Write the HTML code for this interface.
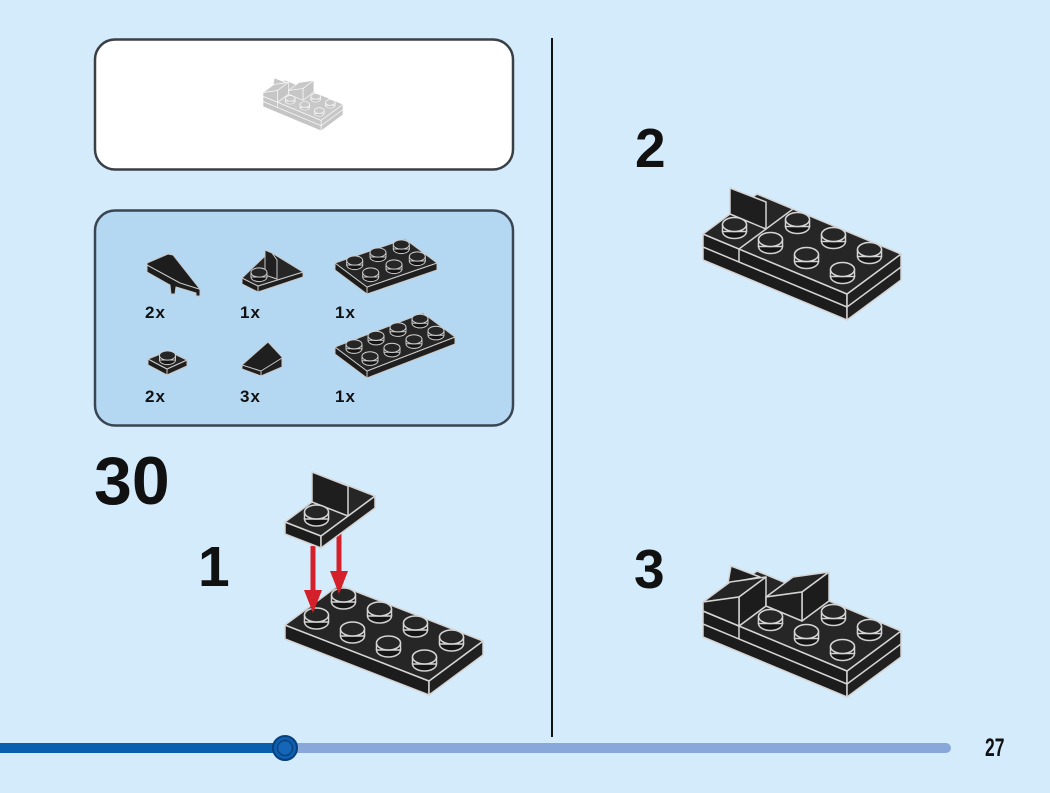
<!DOCTYPE html>
<html>
<head>
<meta charset="utf-8">
<style>
html,body{margin:0;padding:0;background:#d4ebfb;}
body{width:1050px;height:793px;overflow:hidden;}
svg{display:block;}
text{font-family:"Liberation Sans",Arial,sans-serif;font-weight:bold;fill:#111;}
</style>
</head>
<body>
<svg width="1050" height="793" viewBox="0 0 1050 793" xmlns="http://www.w3.org/2000/svg">
<defs>
  <g id="s">
    <ellipse cx="0" cy="0" rx="12" ry="7" fill="#151515" stroke="#d0d0d0" stroke-width="1.5"/>
    <rect x="-12" y="-7" width="24" height="7" fill="#151515"/>
    <ellipse cx="0" cy="-7" rx="12" ry="7" fill="#262626" stroke="#d6d6d6" stroke-width="1.5"/>
  </g>
  <g id="t">
    <ellipse cx="0" cy="0" rx="8" ry="4.6" fill="#151515" stroke="#c8c8c8" stroke-width="1"/>
    <rect x="-8" y="-4.5" width="16" height="4.5" fill="#151515"/>
    <ellipse cx="0" cy="-4.5" rx="8" ry="4.6" fill="#262626" stroke="#cfcfcf" stroke-width="1"/>
  </g>
  <filter id="ghost" color-interpolation-filters="sRGB">
    <feColorMatrix type="matrix" values="0.31 0 0 0 0.74  0 0.31 0 0 0.74  0 0 0.31 0 0.74  0 0 0 1 0"/>
  </filter>

  <!-- Step 3 model -->
  <g id="m3" stroke="#d4d4d4" stroke-width="1.5" stroke-linejoin="round">
    <polygon points="703,611 847,671 847,697 703,637" fill="#1c1c1c"/>
    <polygon points="847,671 901,631 901,657 847,697" fill="#202020"/>
    <polyline points="703,624 847,684 901,644" fill="none"/>
    <line x1="739" y1="626" x2="739" y2="639"/>
    <polygon points="703,611 847,671 901,631 757,571" fill="#262626"/>
    <line x1="739" y1="626" x2="793" y2="586"/>
    <polygon points="728,583 731,566 760,577" fill="#1e1e1e"/>
    <polygon points="703,602 739,597 766,577 730,582" fill="#242424"/>
    <polygon points="739,597 766,577 766,606 739,626" fill="#1c1c1c"/>
    <polygon points="703,602 739,597 739,626 703,611" fill="#1e1e1e"/>
    <polygon points="766,597 802,592 829,572 793,577" fill="#242424"/>
    <polygon points="802,592 829,572 829,601 802,621" fill="#1c1c1c"/>
    <polygon points="766,597 802,592 802,621 766,606" fill="#1e1e1e"/>
    <use href="#s" x="833.5" y="618.5"/>
    <use href="#s" x="770.5" y="623.5"/>
    <use href="#s" x="869.5" y="633.5"/>
    <use href="#s" x="806.5" y="638.5"/>
    <use href="#s" x="842.5" y="653.5"/>
  </g>
</defs>

<!-- Top box -->
<rect x="95" y="39.5" width="418" height="130" rx="20" ry="20" fill="#ffffff" stroke="#3a3f45" stroke-width="2.5"/>
<g filter="url(#ghost)" transform="translate(263,78) scale(0.404) translate(-703,-566)">
  <use href="#m3"/>
</g>

<!-- Parts box -->
<rect x="95" y="210.5" width="418" height="215" rx="20" ry="20" fill="#b4d7f2" stroke="#3a4552" stroke-width="2.5"/>

<g stroke="#c9c9c9" stroke-width="1" stroke-linejoin="round">
  <!-- part 1: wedge plate -->
  <polygon points="147,263 168,254 173,255 199,288 200,290 200,296 196,296 196,293 176,287 175,294 171,294 170,285 147,272" fill="#1d1d1d"/>
  <polyline points="147,265 180,283 199,289" fill="none"/>
  <!-- part 2: bracket -->
  <polygon points="242,278 258,286 258,292 242,284" fill="#1c1c1c"/>
  <polygon points="258,286 303,272 303,277 258,292" fill="#1f1f1f"/>
  <polygon points="242,278 258,286 303,272 272,253 265,256" fill="#262626"/>
  <polygon points="265,250 272,253 277,260 277,279 265,275" fill="#202020"/>
  <use href="#t" x="259" y="277"/>
  <!-- part 3: 2x3 plate -->
  <polygon points="335,263 367,287 367,294 335,270" fill="#1c1c1c"/>
  <polygon points="367,287 437,263 437,270 367,294" fill="#1f1f1f"/>
  <polygon points="335,263 367,287 437,263 405,239" fill="#262626"/>
  <use href="#t" x="401.3" y="249"/>
  <use href="#t" x="378" y="257"/>
  <use href="#t" x="417.3" y="261"/>
  <use href="#t" x="354.7" y="265"/>
  <use href="#t" x="394" y="269"/>
  <use href="#t" x="370.7" y="277"/>
  <!-- part 4: 1x1 plate -->
  <polygon points="148,359 167,369 167,375 148,365" fill="#1c1c1c"/>
  <polygon points="167,369 187,360 187,366 167,375" fill="#1f1f1f"/>
  <polygon points="148,359 167,369 187,360 168,351" fill="#262626"/>
  <use href="#t" x="167.5" y="360"/>
  <!-- part 6: 1x1 slope -->
  <polygon points="242,365 268,342 282,357 282,367 261,376 242,369" fill="#1f1f1f"/>
  <polyline points="242,365 261,371 282,358" fill="none"/>
  <line x1="261" y1="371" x2="261" y2="376"/>
  <!-- part 5: 2x4 plate -->
  <polygon points="335,347 367,371 367,378 335,354" fill="#1c1c1c"/>
  <polygon points="367,371 455,337 455,344 367,378" fill="#1f1f1f"/>
  <polygon points="335,347 367,371 455,337 423,313" fill="#262626"/>
  <use href="#t" x="420" y="323.3"/>
  <use href="#t" x="398" y="331.8"/>
  <use href="#t" x="436" y="335.3"/>
  <use href="#t" x="376" y="340.3"/>
  <use href="#t" x="414" y="343.8"/>
  <use href="#t" x="354" y="348.8"/>
  <use href="#t" x="392" y="352.3"/>
  <use href="#t" x="370" y="360.8"/>
</g>

<g style="font-size:17px;letter-spacing:1px">
  <text x="145" y="318">2x</text>
  <text x="240" y="318">1x</text>
  <text x="335" y="318">1x</text>
  <text x="145" y="402">2x</text>
  <text x="240" y="402">3x</text>
  <text x="335" y="402">1x</text>
</g>

<!-- Numbers -->
<text x="94" y="504" style="font-size:68px">30</text>
<text x="198" y="586" style="font-size:57px">1</text>
<text x="635" y="167" style="font-size:55px">2</text>
<text x="634" y="588" style="font-size:55px">3</text>

<!-- Divider -->
<line x1="552" y1="38" x2="552" y2="737" stroke="#111" stroke-width="2"/>

<!-- Step 1 -->
<g stroke="#d4d4d4" stroke-width="1.5" stroke-linejoin="round">
  <polygon points="285,625 429,681 429,695 285,639" fill="#1c1c1c"/>
  <polygon points="429,681 483,641 483,655 429,695" fill="#202020"/>
  <polygon points="285,625 429,681 483,641 339,585" fill="#262626"/>
  <use href="#s" x="343.5" y="602"/>
  <use href="#s" x="379.5" y="616"/>
  <use href="#s" x="316.5" y="622"/>
  <use href="#s" x="415.5" y="630"/>
  <use href="#s" x="352.5" y="636"/>
  <use href="#s" x="451.5" y="644"/>
  <use href="#s" x="388.5" y="650"/>
  <use href="#s" x="424.5" y="664"/>
</g>
<!-- arrows -->
<g fill="#d3202a">
  <rect x="310.5" y="546" width="5" height="46"/>
  <polygon points="304,590 322,590 313,613"/>
  <rect x="336.5" y="533" width="5" height="40"/>
  <polygon points="330,571 348,571 339,594"/>
</g>
<!-- bracket piece -->
<g stroke="#d4d4d4" stroke-width="1.5" stroke-linejoin="round">
  <polygon points="285,522 321,536 321,548 285,534" fill="#1c1c1c"/>
  <polygon points="321,536 375,496 375,508 321,548" fill="#202020"/>
  <polygon points="285,522 321,536 375,496 339,482" fill="#262626"/>
  <polygon points="312,502 348,516 348,486 312,472" fill="#1e1e1e"/>
  <use href="#s" x="316.5" y="519"/>
</g>

<!-- Step 2 -->
<g stroke="#d4d4d4" stroke-width="1.5" stroke-linejoin="round">
  <polygon points="703,234 847,294 847,320 703,260" fill="#1c1c1c"/>
  <polygon points="847,294 901,254 901,280 847,320" fill="#202020"/>
  <polyline points="703,247 847,307 901,267" fill="none"/>
  <line x1="739" y1="249" x2="739" y2="262"/>
  <polygon points="703,234 847,294 901,254 757,194" fill="#262626"/>
  <line x1="739" y1="249" x2="793" y2="209"/>
  <polygon points="730,214 766,229 766,202 730,188" fill="#1e1e1e"/>
  <use href="#s" x="797.5" y="226.5"/>
  <use href="#s" x="734.5" y="231.5"/>
  <use href="#s" x="833.5" y="241.5"/>
  <use href="#s" x="770.5" y="246.5"/>
  <use href="#s" x="869.5" y="256.5"/>
  <use href="#s" x="806.5" y="261.5"/>
  <use href="#s" x="842.5" y="276.5"/>
</g>

<!-- Step 3 -->
<use href="#m3"/>

<!-- Progress bar -->
<line x1="285" y1="748" x2="946" y2="748" stroke="#87a8d9" stroke-width="10" stroke-linecap="round"/>
<rect x="0" y="743" width="285" height="10" fill="#0a5eae"/>
<circle cx="285" cy="748" r="12" fill="#0d5fb0" stroke="#073f7c" stroke-width="2"/>
<circle cx="285" cy="748" r="7.5" fill="#1565b8" stroke="#07437f" stroke-width="1.5"/>

<text x="985" y="756" style="font-size:25px" transform="translate(985,0) scale(0.7,1) translate(-985,0)">27</text>
</svg>
</body>
</html>
